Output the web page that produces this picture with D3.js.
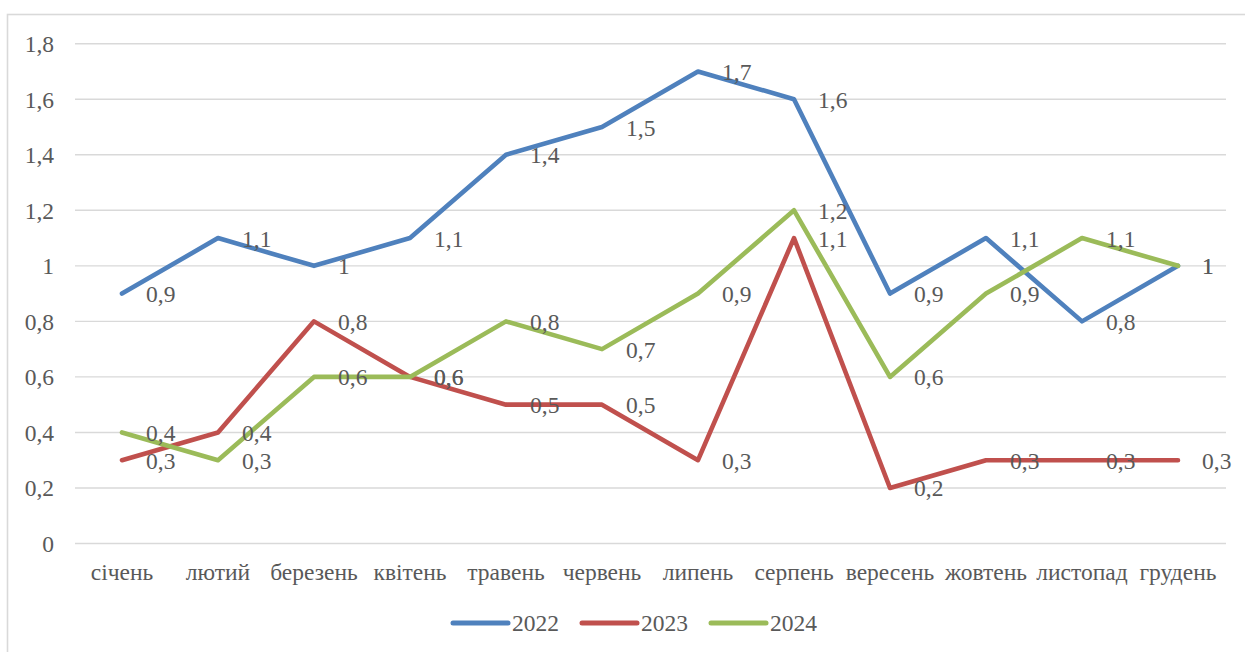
<!DOCTYPE html>
<html>
<head>
<meta charset="utf-8">
<script src="https://cdn.jsdelivr.net/npm/d3@7"></script>
<style>
  html, body { margin: 0; padding: 0; background: #fff; }
  svg { display: block; }
</style>
</head>
<body>
<svg id="chart" width="1245" height="652"></svg>
<script>
const categories = ["січень", "лютий", "березень", "квітень", "травень", "червень", "липень", "серпень", "вересень", "жовтень", "листопад", "грудень"];
const seriesNames = ["2022", "2023", "2024"];
const values2022 = [0.9, 1.1, 1.0, 1.1, 1.4, 1.5, 1.7, 1.6, 0.9, 1.1, 0.8, 1.0];
const values2023 = [0.3, 0.4, 0.8, 0.6, 0.5, 0.5, 0.3, 1.1, 0.2, 0.3, 0.3, 0.3];
const values2024 = [0.4, 0.3, 0.6, 0.6, 0.8, 0.7, 0.9, 1.2, 0.6, 0.9, 1.1, 1.0];
const yTicks = [0, 0.2, 0.4, 0.6, 0.8, 1.0, 1.2, 1.4, 1.6, 1.8];
const colors = ["#4F81BD", "#C0504D", "#9BBB59"];

const series = [values2022, values2023, values2024].map((v, i) => ({ name: seriesNames[i], values: v, color: colors[i] }));

const svg = d3.select("#chart");
const fmt = v => String(+v.toFixed(1)).replace(".", ",");
const FONT = "'Liberation Serif'";
const FS = "23.5px";
const TXT = "#595959";

// outer border
svg.append("rect").attr("x", 7.5).attr("y", 14.5).attr("width", 1260).attr("height", 700)
  .attr("fill", "none").attr("stroke", "#d9d9d9").attr("stroke-width", 1.6);

const x = d3.scaleBand().domain(categories).range([74, 1226]).paddingInner(0).paddingOuter(0);
const y = d3.scaleLinear().domain([0, 1.8]).range([543.5, 43.7]);
const cx = c => x(c) + x.bandwidth() / 2;

// gridlines
svg.append("g").selectAll("line").data(yTicks).join("line")
  .attr("x1", 75).attr("x2", 1226)
  .attr("y1", d => y(d)).attr("y2", d => y(d))
  .attr("stroke", "#d9d9d9").attr("stroke-width", 1.4);

// y axis labels
const yAxis = d3.axisLeft(y).tickValues(yTicks).tickFormat(fmt).tickSize(0).tickPadding(0);
const gy = svg.append("g").attr("transform", "translate(54,0)").call(yAxis);
gy.attr("font-family", null).attr("font-size", null);
gy.select(".domain").remove();
gy.selectAll("text").style("font-family", FONT).style("font-size", FS).style("fill", TXT).attr("dy", "0.34em");

// x axis labels
const xAxis = d3.axisBottom(x).tickSize(0).tickPadding(0);
const gx = svg.append("g").attr("transform", "translate(0,580)").call(xAxis);
gx.attr("font-family", null).attr("font-size", null);
gx.select(".domain").remove();
gx.selectAll("text").style("font-family", FONT).style("font-size", FS).style("fill", TXT).attr("dy", 0);

// lines
const line = d3.line().x((d, i) => cx(categories[i])).y(d => y(d));
svg.append("g").selectAll("path").data(series).join("path")
  .attr("d", s => line(s.values))
  .attr("fill", "none").attr("stroke", s => s.color).attr("stroke-width", 4.6)
  .attr("stroke-linejoin", "round").attr("stroke-linecap", "round");

// data labels
series.forEach(s => {
  svg.append("g").selectAll("text").data(s.values).join("text")
    .attr("x", (d, i) => cx(categories[i]) + 24)
    .attr("y", d => y(d) + 8.5)
    .style("font-family", FONT).style("font-size", FS).style("fill", TXT)
    .text(d => fmt(d));
});

// legend
const legendX = [453, 582, 711];
const lg = svg.append("g");
series.forEach((s, i) => {
  lg.append("line").attr("x1", legendX[i]).attr("x2", legendX[i] + 55)
    .attr("y1", 623).attr("y2", 623)
    .attr("stroke", s.color).attr("stroke-width", 5).attr("stroke-linecap", "round");
  lg.append("text").attr("x", legendX[i] + 59).attr("y", 631)
    .style("font-family", FONT).style("font-size", FS).style("fill", TXT).text(s.name);
});
</script>
</body>
</html>
